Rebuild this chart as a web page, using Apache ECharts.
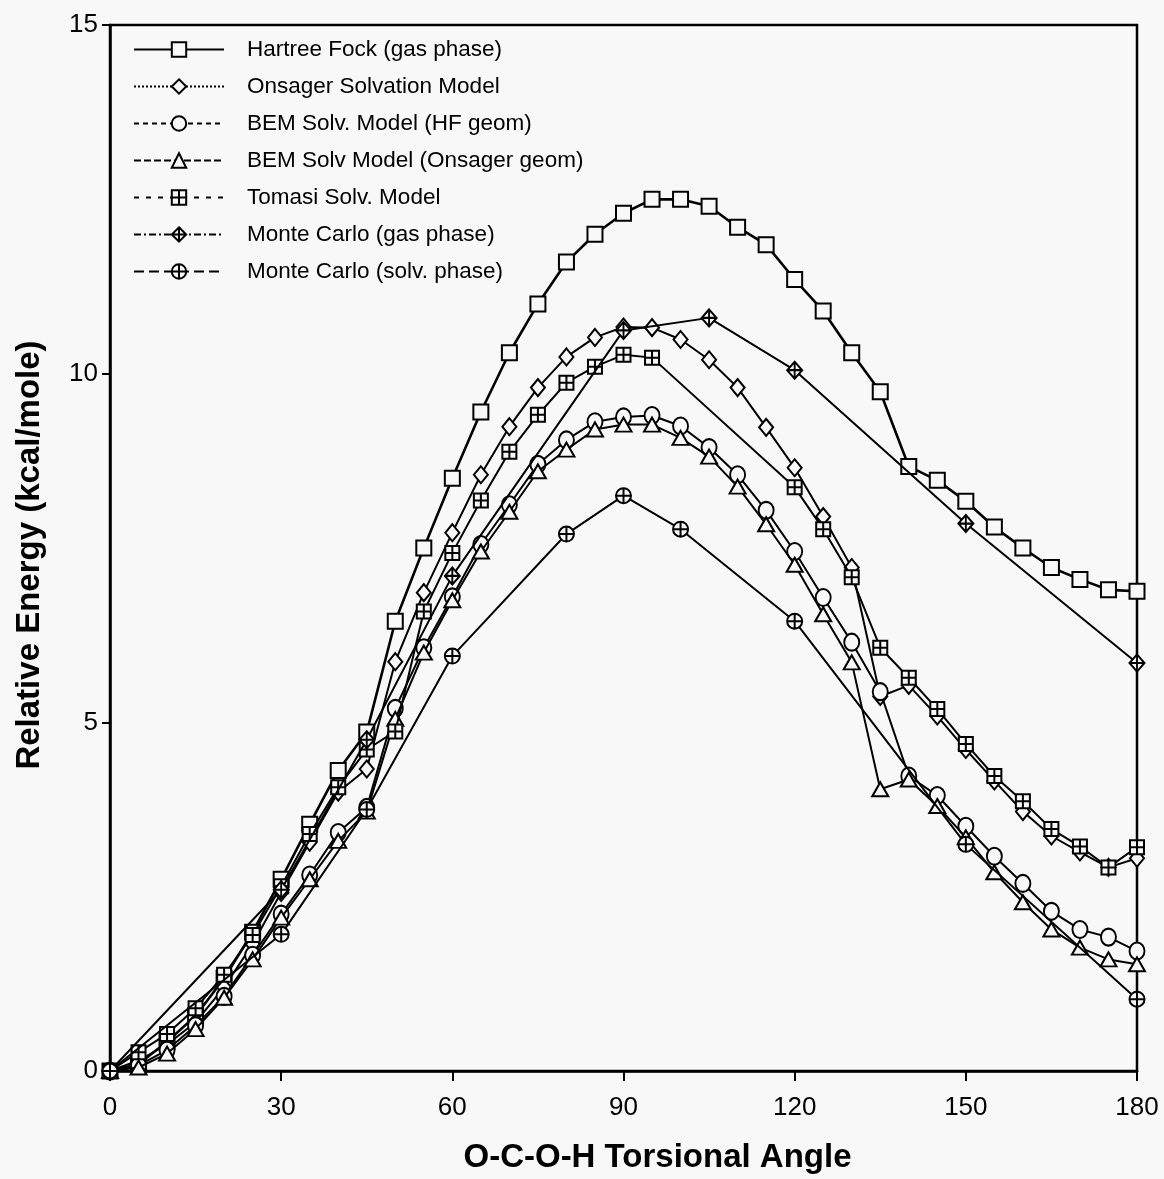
<!DOCTYPE html>
<html>
<head>
<meta charset="utf-8">
<script src="https://cdn.jsdelivr.net/npm/echarts@6/dist/echarts.min.js"></script>
<style>
html,body{margin:0;padding:0;background:#f8f8f8;}
#chart{width:1164px;height:1179px;}
</style>
</head>
<body>
<div id="chart"></div>
<script>
// ---- data ----
var angles = [0,5,10,15,20,25,30,35,40,45,50,55,60,65,70,75,80,85,90,95,100,105,110,115,120,125,130,135,140,145,150,155,160,165,170,175,180];
var hartreeFock = [0,0.1,0.42,0.79,1.33,1.99,2.75,3.54,4.31,4.86,6.45,7.5,8.5,9.45,10.3,11.0,11.6,12.0,12.3,12.5,12.5,12.4,12.1,11.85,11.35,10.9,10.3,9.74,8.67,8.47,8.17,7.8,7.5,7.22,7.05,6.9,6.88];
var onsager = [0,0.15,0.38,0.7,1.2,1.82,2.56,3.28,4.0,4.33,5.87,6.86,7.72,8.55,9.24,9.8,10.24,10.52,10.67,10.66,10.49,10.2,9.8,9.23,8.65,7.95,7.22,5.37,5.53,5.09,4.61,4.16,3.72,3.37,3.14,2.92,3.05];
var bemHF = [0,0.08,0.3,0.65,1.07,1.66,2.25,2.81,3.42,3.78,5.2,6.07,6.8,7.55,8.12,8.7,9.05,9.31,9.38,9.4,9.25,8.94,8.55,8.04,7.45,6.79,6.15,5.44,4.23,3.95,3.51,3.08,2.69,2.29,2.03,1.92,1.72];
var bemOnsager = [0,0.05,0.25,0.6,1.05,1.6,2.2,2.75,3.3,3.72,5.05,6.0,6.75,7.45,8.02,8.6,8.91,9.2,9.27,9.27,9.08,8.81,8.38,7.84,7.26,6.55,5.86,4.04,4.18,3.8,3.35,2.85,2.42,2.03,1.77,1.6,1.53];
var tomasi = [0,0.27,0.53,0.9,1.38,1.95,2.65,3.4,4.07,4.61,4.87,6.59,7.43,8.18,8.88,9.41,9.87,10.1,10.27,10.23,null,null,null,null,8.37,7.77,7.08,6.07,5.64,5.19,4.69,4.23,3.87,3.47,3.22,2.92,3.21];
var mcGasAngles = [0,30,45,60,90,105,120,150,180];
var mcGas = [0,2.6,4.75,7.1,10.62,10.8,10.05,7.85,5.85];
var mcSolvAngles = [0,30,45,60,80,90,100,120,150,180];
var mcSolv = [0,1.96,3.75,5.95,7.7,8.25,7.77,6.45,3.25,1.03];
var xTicks = [0,30,60,90,120,150,180];
var yTicks = [0,5,10,15];
var legendNames = ['Hartree Fock (gas phase)','Onsager Solvation Model','BEM Solv. Model (HF geom)','BEM Solv Model (Onsager geom)','Tomasi Solv. Model','Monte Carlo (gas phase)','Monte Carlo (solv. phase)'];

// ---- styles ----
var BG = '#f8f8f8';
var FONT = '"Liberation Sans", Arial, Helvetica, sans-serif';
var symSqCross = 'path://M0,0 L10,0 L10,10 L0,10 Z M0,5 L10,5 M5,0 L5,10';
var symDiaCross = 'path://M5,0 L10,5 L5,10 L0,5 Z M0,5 L10,5 M5,0 L5,10';
var symCircCross = 'path://M0,5 A5,5 0 1,1 10,5 A5,5 0 1,1 0,5 Z M0,5 L10,5 M5,0 L5,10';

var defs = [
  {xs: angles, ys: hartreeFock, sym: 'rect', size: 15, lw: 2.6, dash: 'solid'},
  {xs: angles, ys: onsager, sym: 'diamond', size: [14,17], lw: 2, dash: [2,2]},
  {xs: angles, ys: bemHF, sym: 'circle', size: [15,17], lw: 2, dash: [5,4]},
  {xs: angles, ys: bemOnsager, sym: 'triangle', size: [16,14], lw: 2, dash: [7,3]},
  {xs: angles, ys: tomasi, sym: symSqCross, size: 14, lw: 2, dash: [5,7]},
  {xs: mcGasAngles, ys: mcGas, sym: symDiaCross, size: [15,17], lw: 2, dash: [7,3,2,3]},
  {xs: mcSolvAngles, ys: mcSolv, sym: symCircCross, size: 15, lw: 2, dash: [10,5]}
];

var series = [];
defs.forEach(function(d, i){
  var pts = [];
  d.xs.forEach(function(x, k){ if (d.ys[k] !== null) pts.push([x, d.ys[k]]); });
  series.push({
    type: 'line', name: 'plot' + i, data: pts,
    symbol: d.sym, symbolSize: d.size, showAllSymbol: true,
    lineStyle: {color: '#000', width: d.lw, type: 'solid'},
    itemStyle: {color: BG, borderColor: '#000', borderWidth: 2},
    emphasis: {disabled: true}, silent: true, z: 2 + i
  });
  // legend entry (no data), carrying the legend line style
  series.push({
    type: 'line', name: legendNames[i], data: [],
    symbol: d.sym, symbolSize: d.size,
    lineStyle: {color: '#000', width: 2, type: d.dash},
    itemStyle: {color: BG, borderColor: '#000', borderWidth: 2}
  });
});

var chart = echarts.init(document.getElementById('chart'), null, {renderer: 'canvas'});
chart.setOption({
  backgroundColor: BG,
  animation: false,
  grid: {left: 110, right: 27, top: 25, bottom: 107, show: true, borderColor: '#000', borderWidth: 2.5, backgroundColor: 'transparent'},
  legend: {
    data: legendNames, orient: 'vertical', left: 128, top: 33,
    itemWidth: 90, itemHeight: 18, itemGap: 14,
    selectedMode: false,
    textStyle: {fontSize: 22.5, fontFamily: FONT, color: '#000', padding: [0,0,0,18]}
  },
  xAxis: {
    type: 'value', min: xTicks[0], max: xTicks[xTicks.length-1], interval: 30,
    name: 'O-C-O-H Torsional Angle', nameLocation: 'middle', nameGap: 70,
    nameTextStyle: {fontSize: 33, fontWeight: 'bold', fontFamily: FONT, color: '#000', padding: [0,0,0,68]},
    axisLine: {lineStyle: {color: '#000', width: 2.5}},
    axisTick: {length: 10, lineStyle: {color: '#000', width: 2}},
    axisLabel: {fontSize: 26, fontFamily: FONT, color: '#000', margin: 24},
    splitLine: {show: false}
  },
  yAxis: {
    type: 'value', min: yTicks[0], max: yTicks[yTicks.length-1], interval: 5,
    name: 'Relative Energy (kcal/mole)', nameLocation: 'middle', nameGap: 64,
    nameTextStyle: {fontSize: 33, fontWeight: 'bold', fontFamily: FONT, color: '#000', padding: [0,14,0,0]},
    axisLine: {lineStyle: {color: '#000', width: 2.5}},
    axisTick: {length: 8, lineStyle: {color: '#000', width: 2}},
    axisLabel: {fontSize: 26, fontFamily: FONT, color: '#000', margin: 12},
    splitLine: {show: false}
  },
  series: series
});
</script>
</body>
</html>
